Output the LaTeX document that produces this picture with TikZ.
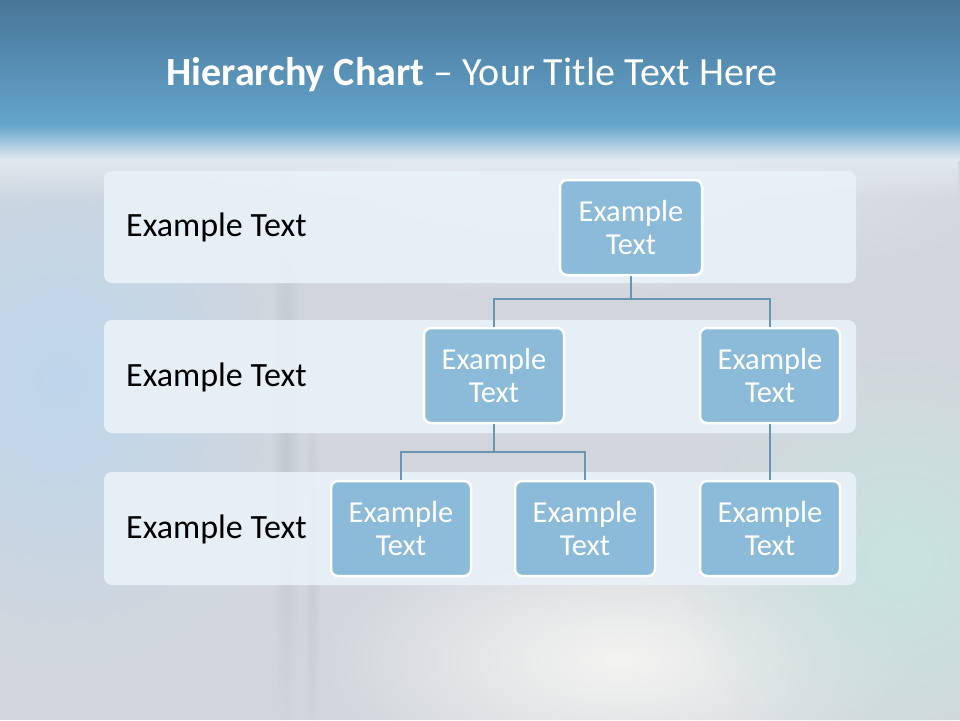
\documentclass[tikz,border=0pt]{standalone}
\usepackage{fontspec}
\setmainfont{Carlito}
\usetikzlibrary{fadings}
\tikzfading[name=softout, inner color=transparent!0, outer color=transparent!100]
\definecolor{topdark}{RGB}{72,118,152}
\definecolor{topmid}{RGB}{100,164,204}
\definecolor{bgpale}{RGB}{226,233,238}
\definecolor{bglight}{RGB}{210,214,220}
\definecolor{bgleft}{RGB}{190,215,236}
\definecolor{bgwhite}{RGB}{244,244,242}
\definecolor{bggreen}{RGB}{200,228,222}
\definecolor{streak}{RGB}{170,175,182}
\definecolor{bandfill}{RGB}{233,241,248}
\definecolor{boxfill}{RGB}{139,187,217}
\definecolor{linkcol}{RGB}{104,150,180}
\tikzset{
  band/.style={fill=bandfill, fill opacity=0.93, rounded corners=8pt, draw=none},
  orgbox/.style={fill=boxfill, draw=white, line width=2.5pt, rounded corners=7pt,
    minimum width=140pt, minimum height=95pt, align=center, text=white,
    font=\fontsize{30.5}{33}\selectfont, inner sep=0pt},
  rowlabel/.style={anchor=west, font=\fontsize{34}{38}\selectfont, text=black, inner sep=0pt},
  link/.style={draw=linkcol, line width=2.8pt},
}
\begin{document}
\begin{tikzpicture}[x=1pt,y=-1pt]
\useasboundingbox (0,0) rectangle (960,720);
% background
\fill[bglight] (0,0) rectangle (960,720);
\fill[bgleft, path fading=softout] (60,380) ellipse (260 and 300);
\fill[bgwhite, path fading=softout] (620,660) ellipse (300 and 140);
\fill[bggreen, path fading=softout] (900,560) ellipse (220 and 220);
\fill[bgpale, path fading=softout] (560,180) ellipse (480 and 120);
\fill[streak, opacity=0.35, path fading=softout] (286,430) ellipse (14 and 330);
\fill[streak, opacity=0.25, path fading=softout] (312,560) ellipse (8 and 200);
\shade[top color=topdark, bottom color=topmid] (0,0) rectangle (960,125);
\shade[top color=topmid, bottom color=bgpale] (0,124.5) rectangle (960,160);
\fill[bgpale, path fading=south] (0,159.5) rectangle (960,200);
% title
\node[text=white, font=\fontsize{40}{46}\selectfont] (title) at (472,75) {\textbf{Hierarchy Chart} – Your Title Text Here};
% bands
\fill[band] (104,171) rectangle (856,283);
\fill[band] (104,320) rectangle (856,433);
\fill[band] (104,472) rectangle (856,585);
\node[rowlabel] (l1) at (126,227) {Example Text};
\node[rowlabel] (l2) at (126,377) {Example Text};
\node[rowlabel] (l3) at (126,529) {Example Text};
% boxes
\node[orgbox, minimum width=142pt] (a) at (631,227.5) {Example\\Text};
\node[orgbox] (b1) at (494,375.5) {Example\\Text};
\node[orgbox] (b2) at (770,375.5) {Example\\Text};
\node[orgbox] (c1) at (401,528.5) {Example\\Text};
\node[orgbox] (c2) at (585,528.5) {Example\\Text};
\node[orgbox] (c3) at (770,528.5) {Example\\Text};
% connectors
\coordinate (ja) at (631,299);
\coordinate (jb) at (494,452);
\draw[link] (a.south) -- (ja) -| (b1.north);
\draw[link] (ja) -| (b2.north);
\draw[link] (b1.south) -- (jb) -| (c1.north);
\draw[link] (jb) -| (c2.north);
\draw[link] (b2.south) -- (c3.north);
\end{tikzpicture}
\end{document}
